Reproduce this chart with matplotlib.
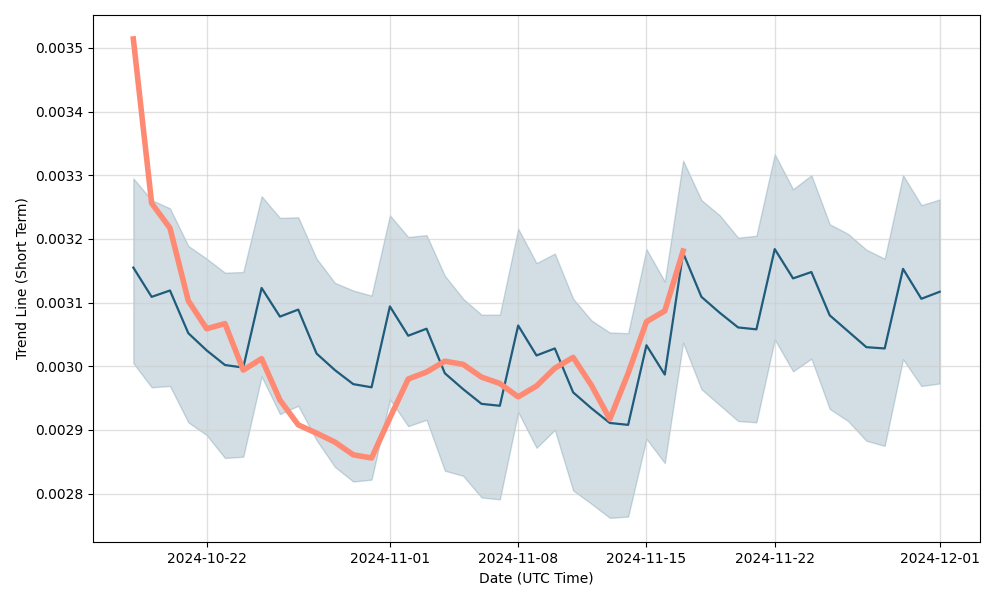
import numpy as np
import pandas as pd
import matplotlib
matplotlib.use("Agg")
import matplotlib.pyplot as plt
import matplotlib.dates as mdates

# daily dates
dates = pd.date_range("2024-10-18", "2024-12-01", freq="D")

trend = [0.003155, 0.003109, 0.003119, 0.003052, 0.003025, 0.003002, 0.002998,
         0.003123, 0.003078, 0.003089, 0.003020, 0.002994, 0.002972, 0.002967,
         0.003094, 0.003048, 0.003059, 0.002989, 0.002964, 0.002941, 0.002938,
         0.003064, 0.003017, 0.003028, 0.002959, 0.002934, 0.002911, 0.002908,
         0.003033, 0.002987, 0.003178, 0.003109, 0.003084, 0.003061, 0.003058,
         0.003184, 0.003138, 0.003148, 0.003080, 0.003055, 0.003030, 0.003028,
         0.003153, 0.003106, 0.003117]

upper = [0.003295, 0.003261, 0.003248, 0.003189, 0.003169, 0.003147, 0.003148,
         0.003267, 0.003233, 0.003234, 0.003169, 0.003131, 0.003119, 0.003111,
         0.003237, 0.003203, 0.003206, 0.003142, 0.003106, 0.003081, 0.003081,
         0.003216, 0.003162, 0.003177, 0.003106, 0.003072, 0.003053, 0.003052,
         0.003184, 0.003133, 0.003323, 0.003261, 0.003237, 0.003202, 0.003205,
         0.003333, 0.003278, 0.003300, 0.003223, 0.003208, 0.003183, 0.003169,
         0.003300, 0.003253, 0.003262]

lower = [0.003005, 0.002967, 0.002969, 0.002912, 0.002892, 0.002856, 0.002858,
         0.002984, 0.002925, 0.002938, 0.002884, 0.002842, 0.002819, 0.002822,
         0.002948, 0.002906, 0.002916, 0.002836, 0.002828, 0.002794, 0.002791,
         0.002928, 0.002872, 0.002900, 0.002805, 0.002784, 0.002762, 0.002764,
         0.002886, 0.002848, 0.003037, 0.002964, 0.002939, 0.002914, 0.002912,
         0.003042, 0.002992, 0.003012, 0.002933, 0.002914, 0.002883, 0.002875,
         0.003011, 0.002969, 0.002973]

# actual values, only up to 2024-11-17
actual = [0.003514, 0.003256, 0.003217, 0.003103, 0.003059, 0.003067, 0.002994,
          0.003012, 0.002947, 0.002908, 0.002895, 0.002881, 0.002861, 0.002856,
          0.002919, 0.002980, 0.002991, 0.003008, 0.003003, 0.002983, 0.002973,
          0.002952, 0.002969, 0.002997, 0.003014, 0.002970, 0.002917, 0.002989,
          0.003070, 0.003087, 0.003181]

blue = "#1f5b7a"
salmon = "#ff8a73"

fig, ax = plt.subplots(figsize=(10, 6), dpi=100)
ax.fill_between(dates, lower, upper, color=blue, alpha=0.2, edgecolor=blue, linewidth=1)
ax.plot(dates, trend, color=blue, linewidth=1.6)
ax.plot(dates[:len(actual)], actual, color=salmon, linewidth=4)

ax.grid(True, color="#cccccc", alpha=0.6, linewidth=1)
ax.xaxis.set_major_locator(mdates.AutoDateLocator())
ax.xaxis.set_major_formatter(mdates.DateFormatter("%Y-%m-%d"))
ax.set_xlabel("Date (UTC Time)")
ax.set_ylabel("Trend Line (Short Term)")

fig.subplots_adjust(left=0.093, right=0.98, top=0.975, bottom=0.097)
plt.savefig("out.png")
